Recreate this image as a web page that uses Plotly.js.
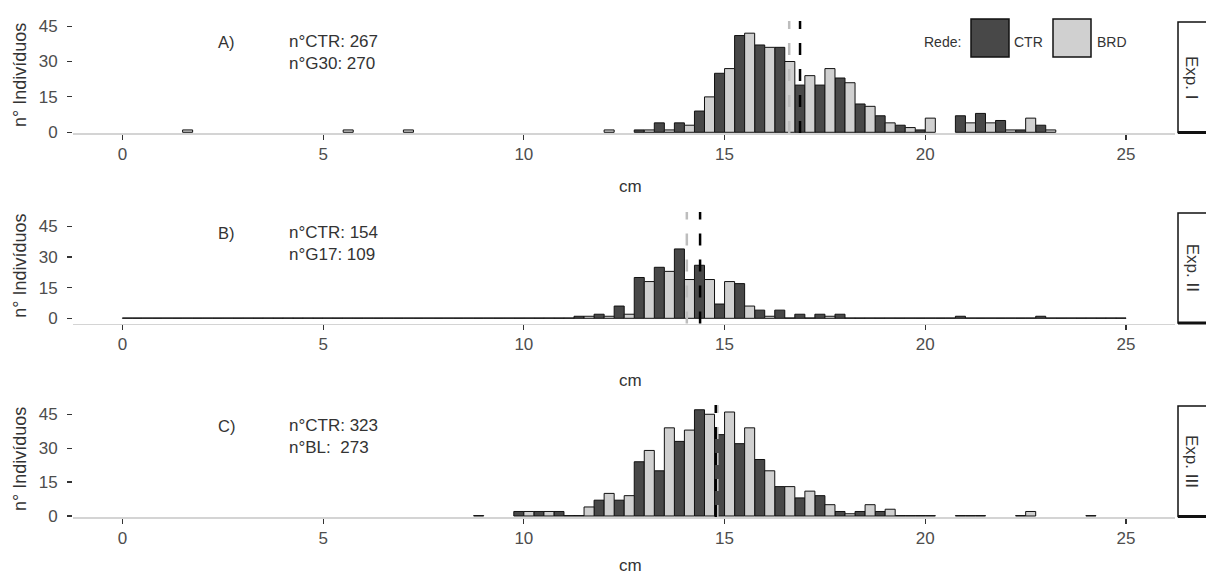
<!DOCTYPE html>
<html>
<head>
<meta charset="utf-8">
<script src="https://cdn.plot.ly/plotly-3.0.1.min.js"></script>
<style>html,body{margin:0;padding:0;background:#fff}#chart{width:1206px;height:576px}</style>
</head>
<body>
<div id="chart"></div>
<script>
// ---------- DATA (bin centres in cm, counts per bin) ----------
// Panel A (Exp. I)
const binsA = [1.5, 5.5, 7, 12, 12.5, 13, 13.5, 14, 14.5, 15, 15.5, 16, 16.5, 17, 17.5, 18, 18.5, 19, 19.5, 20, 20.5, 21, 21.5, 22, 22.5, 23];
const ctrA  = [null, null, null, null, null, 1, 4, 4, 9, 25, 41, 37, 36, 20, 20, 23, 12, 7, 3, 1, null, 7, 8, 5, 1, 3];
const g30A  = [1, 1, 1, 1, null, 1, 1, 3, 15, 27, 42, 36, 30, 24, 27, 21, 11, 4, 2, 6, null, 4, 4, 1, 6, 1];

// Panel B (Exp. II)
const binsB = [0, 0.5, 1, 1.5, 2, 2.5, 3, 3.5, 4, 4.5, 5, 5.5, 6, 6.5, 7, 7.5, 8, 8.5, 9, 9.5, 10, 10.5, 11, 11.5, 12, 12.5, 13, 13.5, 14, 14.5, 15, 15.5, 16, 16.5, 17, 17.5, 18, 18.5, 19, 19.5, 20, 20.5, 21, 21.5, 22, 22.5, 23, 23.5, 24, 24.5, 25];
const ctrB  = [null,0,0,0,0,0,0,0,0,0,0,0,0,0,0,0,0,0,0,0,0,0,0, 1, 2, 6, 20, 25, 34, 26, 7, 17, 4, 4, 2, 2, 2, 0, 0, 0, 0, 0, 1, 0, 0, 0, 1, 0, 0, 0, 0];
const g17B  = [0,0,0,0,0,0,0,0,0,0,0,0,0,0,0,0,0,0,0,0,0,0,0, 1, 1, 2, 18, 23, 19, 19, 18, 6, 1, 0, 0, 1, 0, 0, 0, 0, 0, 0, 0, 0, 0, 0, 0, 0, 0, 0, null];

// Panel C (Exp. III) - dark series (first level: BL), light series (CTR)
const binsC = [9, 9.5, 10, 10.5, 11, 11.5, 12, 12.5, 13, 13.5, 14, 14.5, 15, 15.5, 16, 16.5, 17, 17.5, 18, 18.5, 19, 19.5, 20, 20.5, 21, 21.5, 22, 22.5, 23, 23.5, 24];
const blC   = [0, null, 2, 2, 2, 0, 7, 7, 24, 20, 33, 47, 36, 32, 25, 13, 8, 9, 2, 2, 2, 0, 0, null, 0, 0, null, 0, null, null, null];
const ctrC  = [null, null, 2, 2, 0, 4, 10, 9, 29, 39, 38, 45, 46, 39, 20, 13, 11, 5, 1, 5, 3, 0, 0, null, 0, null, null, 2, null, null, 0];

// Mean lengths (dashed lines): dark series, light series, per panel
const meanDark  = [16.88, 14.39, 14.78];
const meanLight = [16.61, 14.06, 14.82];

// Texts
const panelLetters = ['A)', 'B)', 'C)'];
const countTexts = ['n°CTR: 267<br>n°G30: 270', 'n°CTR: 154<br>n°G17: 109', 'n°CTR: 323<br>n°BL:\u00a0 273'];
const stripTexts = ['Exp. I', 'Exp. II', 'Exp. III'];
const xTicks = [0, 5, 10, 15, 20, 25];
const yTicks = [0, 15, 30, 45];
const legendTitle = 'Rede:';
const legendLabels = ['CTR', 'BRD'];

// ---------- STYLE / LAYOUT ----------
const W = 1206, H = 576;
const px = x => x / W;
const py = y => 1 - y / H;
const DARK = '#484848', LIGHT = '#d0d0d0', EDGE = '#111111';
const FONT = 'Liberation Sans, Arial, sans-serif';
const ZERO_H = 0.18; // zero-count bins are drawn as flat outlined bars (as in the reference)
const disp = arr => arr.map(v => v === 0 ? ZERO_H : v);

// panel pixel geometry: [top, bottom] of plotting area, y range, x-title position
const panels = [
  {top: 21,  bottom: 133,   range: [-0.3, 47.16], cmY: 186},
  {top: 212, bottom: 323.5, range: [-2.55, 52.1], cmY: 380},
  {top: 405, bottom: 517,   range: [-0.44, 49.1], cmY: 565}
];
const xDomain = [px(73), px(1175)];
const xRange = [-1.23, 26.22];

const series = [
  [binsA, ctrA, g30A],
  [binsB, ctrB, g17B],
  [binsC, blC, ctrC]
];

const traces = [];
series.forEach((s, i) => {
  const xa = i === 0 ? 'x' : 'x' + (i + 1);
  const ya = i === 0 ? 'y' : 'y' + (i + 1);
  traces.push({type: 'bar', x: s[0], y: disp(s[1]), xaxis: xa, yaxis: ya,
    marker: {color: DARK, line: {color: EDGE, width: 1}}, hoverinfo: 'x+y'});
  traces.push({type: 'bar', x: s[0], y: disp(s[2]), xaxis: xa, yaxis: ya,
    marker: {color: LIGHT, line: {color: EDGE, width: 1}}, hoverinfo: 'x+y'});
});

const layout = {
  width: W, height: H,
  margin: {l: 0, r: 0, t: 0, b: 0},
  paper_bgcolor: '#ffffff', plot_bgcolor: '#ffffff',
  barmode: 'group', bargap: 0, bargroupgap: 0,
  showlegend: false,
  font: {family: FONT, color: '#4d4d4d'},
  shapes: [], annotations: []
};

panels.forEach((p, i) => {
  const sx = i === 0 ? '' : String(i + 1);
  layout['xaxis' + sx] = {
    domain: xDomain, range: xRange, anchor: 'y' + sx,
    tickvals: xTicks, ticktext: xTicks.map(String),
    ticks: 'outside', ticklen: 5, tickwidth: 1.2, tickcolor: '#333333',
    tickfont: {size: 17, color: '#4d4d4d', family: FONT},
    showline: true, linecolor: '#d4d4d4', linewidth: 1.5,
    showgrid: false, zeroline: false, fixedrange: true
  };
  layout['yaxis' + sx] = {
    domain: [py(p.bottom), py(p.top)], range: p.range, anchor: 'x' + sx,
    tickvals: yTicks, ticktext: yTicks.map(String),
    ticks: 'outside', ticklen: 5, tickwidth: 1.2, tickcolor: '#333333',
    ticklabelstandoff: 6,
    tickfont: {size: 17, color: '#4d4d4d', family: FONT},
    showline: false, showgrid: false, zeroline: false, fixedrange: true
  };
  const xr = i === 0 ? 'x' : 'x' + (i + 1);
  const yd = (i === 0 ? 'y' : 'y' + (i + 1)) + ' domain';
  // mean lines
  layout.shapes.push({type: 'line', xref: xr, yref: yd, x0: meanLight[i], x1: meanLight[i], y0: 0, y1: 1,
    line: {color: '#bdbdbd', width: 2.5, dash: '12px,14px'}, layer: 'above'});
  layout.shapes.push({type: 'line', xref: xr, yref: yd, x0: meanDark[i], x1: meanDark[i], y0: 0, y1: 1,
    line: {color: '#000000', width: 2.5, dash: '12px,14px'}, layer: 'above'});
  // strip box at the right
  layout.shapes.push({type: 'rect', xref: 'paper', yref: 'paper',
    x0: px(1178), x1: px(1230), y0: py(p.bottom - 0.5), y1: py(p.top + 1),
    line: {color: '#111', width: 1.5}, fillcolor: '#ffffff', layer: 'above'});
  layout.shapes.push({type: 'line', xref: 'paper', yref: 'paper',
    x0: px(1178), x1: px(1210), y0: py(p.bottom - 0.5), y1: py(p.bottom - 0.5),
    line: {color: '#111', width: 3}, layer: 'above'});
  layout.annotations.push({xref: 'paper', yref: 'paper', x: px(1192), y: py((p.top + p.bottom) / 2),
    text: stripTexts[i], textangle: 90, showarrow: false,
    font: {size: 17, color: '#333', family: FONT}, xanchor: 'center', yanchor: 'middle'});
  // panel letter and counts
  layout.annotations.push({xref: 'paper', yref: 'paper', x: px(226), y: py(p.top + 21),
    text: panelLetters[i], showarrow: false, font: {size: 16.5, color: '#333', family: FONT},
    xanchor: 'center', yanchor: 'middle'});
  layout.annotations.push({xref: 'paper', yref: 'paper', x: px(287), y: py(p.top + 31),
    text: countTexts[i], showarrow: false, align: 'left', font: {size: 17, color: '#333', family: FONT},
    xanchor: 'left', yanchor: 'middle'});
  // axis titles
  layout.annotations.push({xref: 'paper', yref: 'paper', x: px(630), y: py(p.cmY),
    text: 'cm', showarrow: false, font: {size: 17, color: '#333', family: FONT},
    xanchor: 'center', yanchor: 'middle'});
  layout.annotations.push({xref: 'paper', yref: 'paper', x: px(20), y: py((p.top + p.bottom) / 2 - 2),
    text: 'n° Indivíduos', textangle: -90, showarrow: false, font: {size: 18, color: '#333', family: FONT},
    xanchor: 'center', yanchor: 'middle'});
});

// legend (top panel)
layout.annotations.push({xref: 'paper', yref: 'paper', x: px(963), y: py(42), text: legendTitle,
  showarrow: false, xanchor: 'right', yanchor: 'middle', font: {size: 14, color: '#333', family: FONT}});
layout.shapes.push({type: 'rect', xref: 'paper', yref: 'paper', x0: px(971), x1: px(1009), y0: py(57), y1: py(19),
  fillcolor: DARK, line: {color: EDGE, width: 1.5}});
layout.annotations.push({xref: 'paper', yref: 'paper', x: px(1012), y: py(42), text: legendLabels[0],
  showarrow: false, xanchor: 'left', yanchor: 'middle', font: {size: 14, color: '#333', family: FONT}});
layout.shapes.push({type: 'rect', xref: 'paper', yref: 'paper', x0: px(1053), x1: px(1091), y0: py(57), y1: py(19),
  fillcolor: LIGHT, line: {color: EDGE, width: 1.5}});
layout.annotations.push({xref: 'paper', yref: 'paper', x: px(1095), y: py(42), text: legendLabels[1],
  showarrow: false, xanchor: 'left', yanchor: 'middle', font: {size: 14, color: '#333', family: FONT}});

Plotly.newPlot('chart', traces, layout, {displayModeBar: false, staticPlot: true});
</script>
</body>
</html>
